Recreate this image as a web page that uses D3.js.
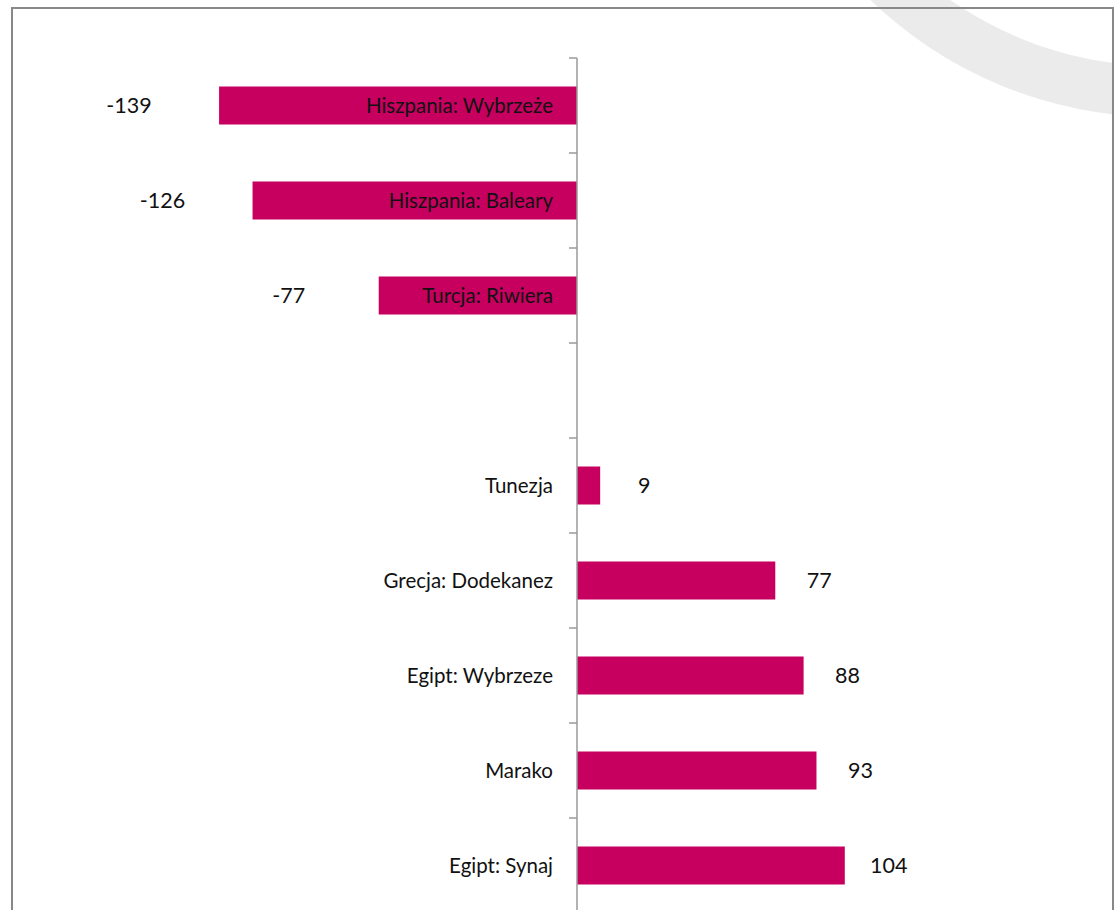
<!DOCTYPE html>
<html>
<head>
<meta charset="utf-8">
<script src="https://cdn.jsdelivr.net/npm/d3@7"></script>
<style>
  body { margin: 0; background: #fff; }
  svg { display: block; font-family: Lato, "Open Sans", sans-serif; }
</style>
</head>
<body>
<svg id="chart" width="1114" height="910"></svg>
<script>
// categories top to bottom, "" is the empty slot between the two groups
const categories = [
  "Hiszpania: Wybrzeże",
  "Hiszpania: Baleary",
  "Turcja: Riwiera",
  "",
  "Tunezja",
  "Grecja: Dodekanez",
  "Egipt: Wybrzeze",
  "Marako",
  "Egipt: Synaj"
];
const values = [-139, -126, -77, null, 9, 77, 88, 93, 104];

const BAR_COLOR = "#c7005f";
const AXIS_COLOR = "#9a9a9a";

const svg = d3.select("#chart");

// grey decorative ring in the top right corner (slide background)
svg.append("path")
  .attr("transform", "translate(1160,-300)")
  .attr("d", d3.arc()
    .innerRadius(366)
    .outerRadius(417)
    .startAngle(0)
    .endAngle(2 * Math.PI)())
  .attr("fill", "#ebebeb");

// frame
svg.append("rect")
  .attr("x", 12)
  .attr("y", 8)
  .attr("width", 1101)
  .attr("height", 1000)
  .attr("fill", "none")
  .attr("stroke", "#888")
  .attr("stroke-width", 2);

const data = categories.map((c, i) => ({ cat: c, value: values[i] }));

const x = d3.scaleLinear()
  .domain([-200, 200])
  .range([62, 1092]);

const y = d3.scaleBand()
  .domain(categories)
  .range([58, 913])
  .paddingInner(0.6)
  .paddingOuter(0.3);

const x0 = x(0);
const gap = (y.step() - y.bandwidth()) / 2;

// bars
svg.selectAll("rect.bar")
  .data(data.filter(d => d.value != null))
  .enter()
  .append("rect")
  .attr("class", "bar")
  .attr("x", d => Math.min(x(d.value), x0))
  .attr("y", d => y(d.cat))
  .attr("width", d => Math.abs(x(d.value) - x0))
  .attr("height", y.bandwidth())
  .attr("fill", BAR_COLOR);

// vertical axis line + ticks on the category boundaries
const boundaries = categories.map(c => y(c) - gap);
boundaries.push(y(categories[categories.length - 1]) + y.bandwidth() + gap);

svg.append("line")
  .attr("x1", x0).attr("x2", x0)
  .attr("y1", boundaries[0])
  .attr("y2", 1000)
  .attr("stroke", AXIS_COLOR)
  .attr("stroke-width", 1.5);

svg.selectAll("line.tick")
  .data(boundaries)
  .enter()
  .append("line")
  .attr("class", "tick")
  .attr("x1", x0 - 8).attr("x2", x0)
  .attr("y1", d => d).attr("y2", d => d)
  .attr("stroke", AXIS_COLOR)
  .attr("stroke-width", 1.5);

// category labels, right aligned next to the axis (over the negative bars)
svg.selectAll("text.cat")
  .data(data)
  .enter()
  .append("text")
  .attr("class", "cat")
  .attr("x", x0 - 24)
  .attr("y", d => y(d.cat) + y.bandwidth() / 2)
  .attr("dy", "0.35em")
  .attr("text-anchor", "end")
  .attr("font-size", 20.5)
  .attr("fill", "#111")
  .text(d => d.cat);

// value labels outside the bar ends
svg.selectAll("text.val")
  .data(data.filter(d => d.value != null))
  .enter()
  .append("text")
  .attr("class", "val")
  .attr("x", d => d.value < 0 ? x(d.value) - 90 : x(d.value) + 44)
  .attr("y", d => y(d.cat) + y.bandwidth() / 2)
  .attr("dy", "0.35em")
  .attr("text-anchor", "middle")
  .attr("font-size", 21.5)
  .attr("fill", "#111")
  .text(d => d.value);
</script>
</body>
</html>
